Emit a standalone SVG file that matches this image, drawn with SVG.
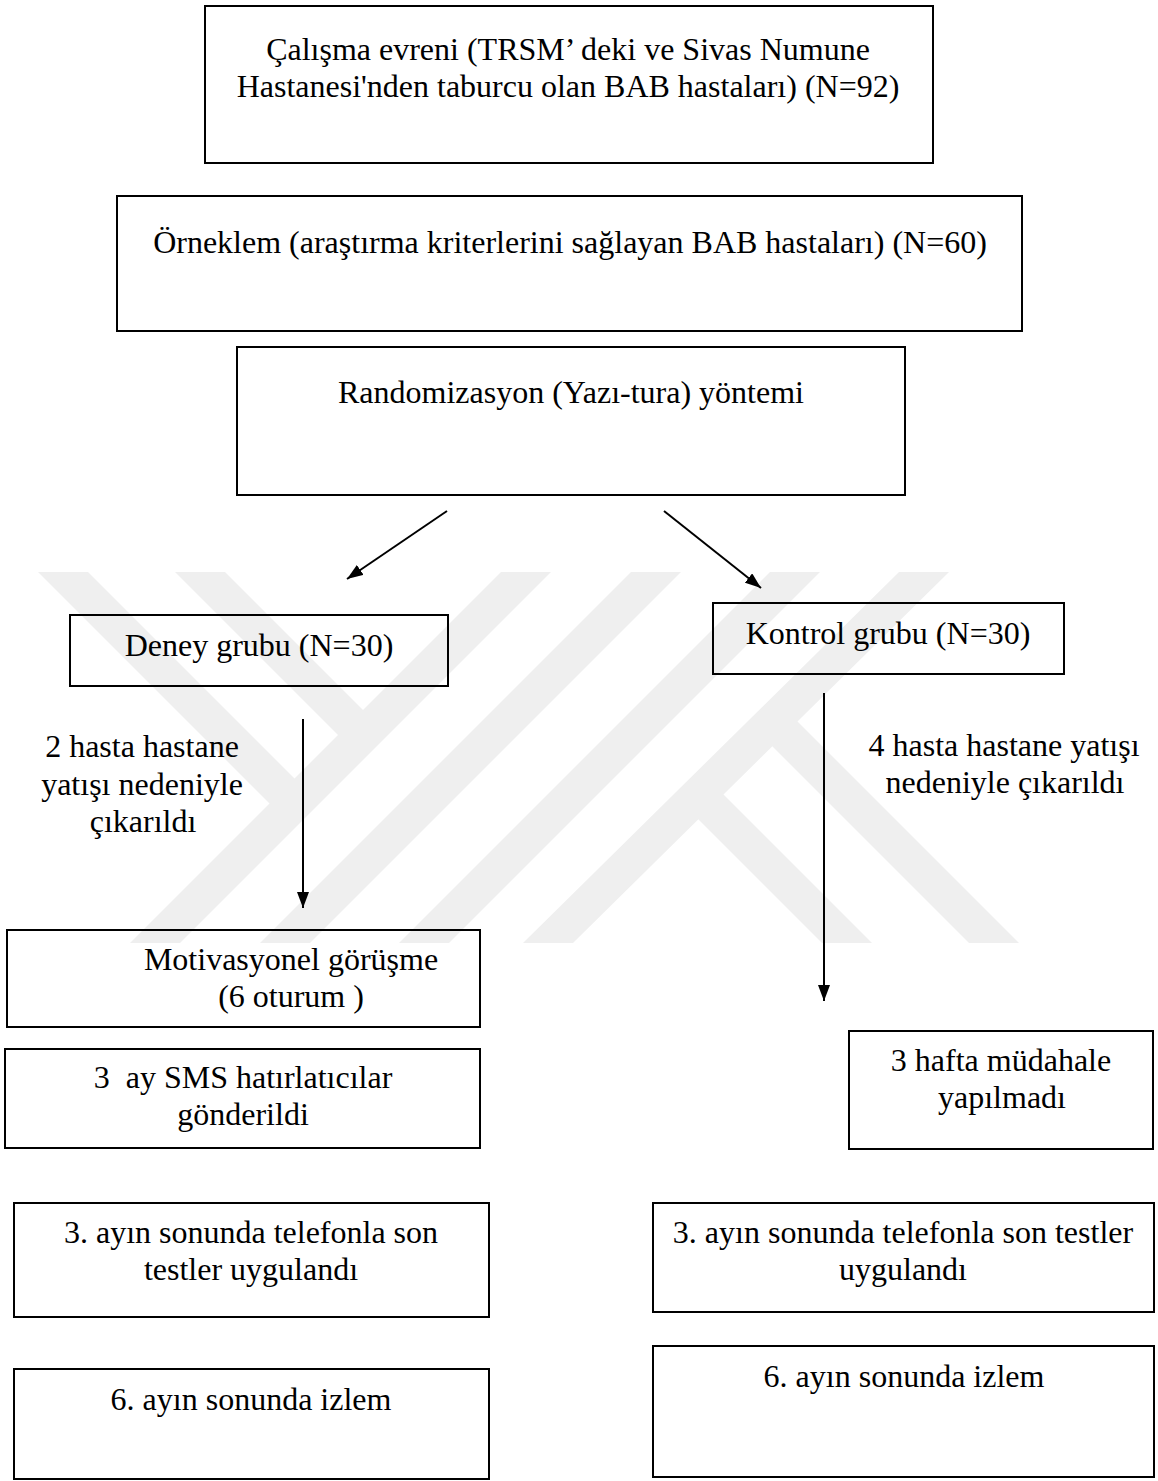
<svg xmlns="http://www.w3.org/2000/svg" width="1158" height="1481" viewBox="0 0 1158 1481">
<style>
  .box { fill: none; stroke: #000; stroke-width: 2; }
  .t { font-family: "Liberation Serif", "Times New Roman", serif; font-size: 32px; fill: #000; text-anchor: middle; }
  .conn { stroke: #000; stroke-width: 2; fill: none; }
  .wm { fill: #efefef; }
</style>
<defs>
  <marker id="arrow" viewBox="0 0 16 12" refX="16" refY="6" markerWidth="16" markerHeight="12" markerUnits="userSpaceOnUse" orient="auto">
    <path d="M0,0 L16,6 L0,12 z" fill="#000"/>
  </marker>
</defs>
<rect x="0" y="0" width="1158" height="1481" fill="#fff"/>

<g id="watermark">
  <polygon class="wm" points="38,572 88,572 307,791 282,816"/>
  <polygon class="wm" points="175,572 225,572 375.5,722.5 350.5,747.5"/>
  <polygon class="wm" points="501,572 551,572 180,943 130,943"/>
  <polygon class="wm" points="631,572 681,572 310,943 260,943"/>
  <polygon class="wm" points="770,572 820,572 449,943 399,943"/>
  <polygon class="wm" points="899,572 949,572 573,943 523,943"/>
  <polygon class="wm" points="761,735 786,710 1019,943 969,943"/>
  <polygon class="wm" points="687.5,808.5 712.5,783.5 872,943 822,943"/>
</g>

<g id="connectors">
  <line class="conn" x1="447" y1="511" x2="347" y2="579" marker-end="url(#arrow)"/>
  <line class="conn" x1="664" y1="511" x2="761" y2="588" marker-end="url(#arrow)"/>
  <line class="conn" x1="303" y1="719" x2="303" y2="908" marker-end="url(#arrow)"/>
  <line class="conn" x1="824" y1="693" x2="824" y2="1001" marker-end="url(#arrow)"/>
</g>

<g id="n-evren">
  <rect class="box" x="205" y="6" width="728" height="157"/>
  <text class="t" x="568" y="60">Çalışma evreni (TRSM’ deki ve Sivas Numune</text>
  <text class="t" x="568" y="97">Hastanesi'nden taburcu olan BAB hastaları) (N=92)</text>
</g>
<g id="n-orneklem">
  <rect class="box" x="117" y="196" width="905" height="135"/>
  <text class="t" x="570" y="253">Örneklem (araştırma kriterlerini sağlayan BAB hastaları) (N=60)</text>
</g>
<g id="n-random">
  <rect class="box" x="237" y="347" width="668" height="148"/>
  <text class="t" x="571" y="403">Randomizasyon (Yazı-tura) yöntemi</text>
</g>
<g id="n-deney">
  <rect class="box" x="70" y="615" width="378" height="71"/>
  <text class="t" x="259" y="656">Deney grubu (N=30)</text>
</g>
<g id="n-kontrol">
  <rect class="box" x="713" y="603" width="351" height="71"/>
  <text class="t" x="888" y="644">Kontrol grubu (N=30)</text>
</g>
<g id="l-deney-cikan">
  <text class="t" x="142" y="757">2 hasta hastane</text>
  <text class="t" x="142" y="795">yatışı nedeniyle</text>
  <text class="t" x="143" y="832">çıkarıldı</text>
</g>
<g id="l-kontrol-cikan">
  <text class="t" x="1004" y="756">4 hasta hastane yatışı</text>
  <text class="t" x="1005" y="793">nedeniyle çıkarıldı</text>
</g>
<g id="n-motiv">
  <rect class="box" x="7" y="930" width="473" height="97"/>
  <text class="t" x="291" y="970">Motivasyonel görüşme</text>
  <text class="t" x="291" y="1007">(6 oturum )</text>
</g>
<g id="n-sms">
  <rect class="box" x="5" y="1049" width="475" height="99"/>
  <text class="t" x="243" y="1088" xml:space="preserve">3  ay SMS hatırlatıcılar</text>
  <text class="t" x="243" y="1125">gönderildi</text>
</g>
<g id="n-hafta">
  <rect class="box" x="849" y="1031" width="304" height="118"/>
  <text class="t" x="1001" y="1071">3 hafta müdahale</text>
  <text class="t" x="1002" y="1108">yapılmadı</text>
</g>
<g id="n-deney-3ay">
  <rect class="box" x="14" y="1203" width="475" height="114"/>
  <text class="t" x="251" y="1243">3. ayın sonunda telefonla son</text>
  <text class="t" x="251" y="1280">testler uygulandı</text>
</g>
<g id="n-kontrol-3ay">
  <rect class="box" x="653" y="1203" width="501" height="109"/>
  <text class="t" x="903" y="1243">3. ayın sonunda telefonla son testler</text>
  <text class="t" x="903" y="1280">uygulandı</text>
</g>
<g id="n-deney-6ay">
  <rect class="box" x="14" y="1369" width="475" height="110"/>
  <text class="t" x="251" y="1410">6. ayın sonunda izlem</text>
</g>
<g id="n-kontrol-6ay">
  <rect class="box" x="653" y="1346" width="501" height="131"/>
  <text class="t" x="904" y="1387">6. ayın sonunda izlem</text>
</g>
</svg>
